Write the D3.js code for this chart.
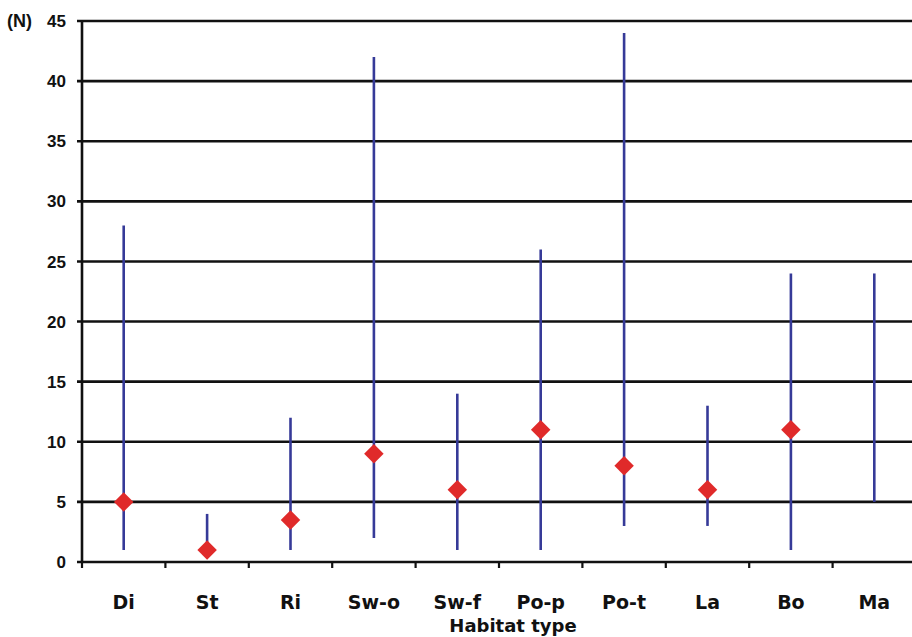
<!DOCTYPE html>
<html><head><meta charset="utf-8">
<script src="https://cdn.jsdelivr.net/npm/d3@7"></script>
<style>body{margin:0;background:#fff}svg{display:block}text{font-family:"Liberation Sans",Arial,sans-serif;font-weight:bold;fill:#111}</style>
</head><body><svg id="c" width="912" height="637"></svg>
<script>
const categories = ["Di","St","Ri","Sw-o","Sw-f","Po-p","Po-t","La","Bo","Ma"];
const minValues  = [1, 1, 1, 2, 1, 1, 3, 3, 1, 5];
const maxValues  = [28, 4, 12, 42, 14, 26, 44, 13, 24, 24];
const meanValues = [5, 1, 3.5, 9, 6, 11, 8, 6, 11, null];
const yTicks = [0,5,10,15,20,25,30,35,40,45];

const svg = d3.select("#c");
const x0 = 82, bandW = 83.4;
const x = d3.scaleBand().domain(categories).range([x0, x0 + bandW*categories.length]).padding(0);
const y = d3.scaleLinear().domain([0,45]).range([562, 21]);

// gridlines
svg.append("g").selectAll("line").data(yTicks).join("line")
  .attr("x1", 77).attr("x2", 912)
  .attr("y1", d => y(d)).attr("y2", d => y(d))
  .attr("stroke", "#111").attr("stroke-width", 2.6);

// y axis line
svg.append("line").attr("x1", x0).attr("x2", x0).attr("y1", y(45)).attr("y2", y(0)+1)
  .attr("stroke", "#111").attr("stroke-width", 2.6);

// y tick labels
svg.append("g").selectAll("text").data(yTicks).join("text")
  .attr("x", 66).attr("y", d => y(d)).attr("dy", "0.36em")
  .attr("text-anchor", "end").attr("font-size", 17).text(d => d);
svg.append("text").attr("x", 7).attr("y", y(45)).attr("dy","0.36em").attr("font-size", 18).text("(N)");

// x ticks at band boundaries
const bounds = categories.map(c => x(c)).concat([x0 + bandW*categories.length]);
svg.append("g").selectAll("line").data(bounds).join("line")
  .attr("x1", d => d).attr("x2", d => d).attr("y1", y(0)).attr("y2", y(0)+6)
  .attr("stroke", "#111").attr("stroke-width", 2.2);

// x labels
svg.append("g").selectAll("text").data(categories).join("text")
  .attr("x", d => x(d) + x.bandwidth()/2).attr("y", 609)
  .attr("text-anchor", "middle").attr("font-size", 19)
  .style("font-family", "'DejaVu Sans',Verdana,sans-serif").text(d => d);
svg.append("text").attr("x", 513).attr("y", 632).attr("text-anchor","middle")
  .attr("font-size", 18).style("font-family", "'DejaVu Sans',Verdana,sans-serif")
  .text("Habitat type");

// range lines
svg.append("g").selectAll("line").data(categories).join("line")
  .attr("x1", d => x(d) + x.bandwidth()/2).attr("x2", d => x(d) + x.bandwidth()/2)
  .attr("y1", (d,i) => y(minValues[i])).attr("y2", (d,i) => y(maxValues[i]))
  .attr("stroke", "#363a98").attr("stroke-width", 2.6);

// mean diamonds
const sq = d3.symbol().type(d3.symbolSquare).size(190);
svg.append("g").selectAll("path").data(categories.map((c,i)=>({c, v: meanValues[i]})).filter(d => d.v != null))
  .join("path")
  .attr("d", sq)
  .attr("transform", d => `translate(${x(d.c)+x.bandwidth()/2},${y(d.v)}) rotate(45)`)
  .attr("fill", "#e02a2a");
</script></body></html>
